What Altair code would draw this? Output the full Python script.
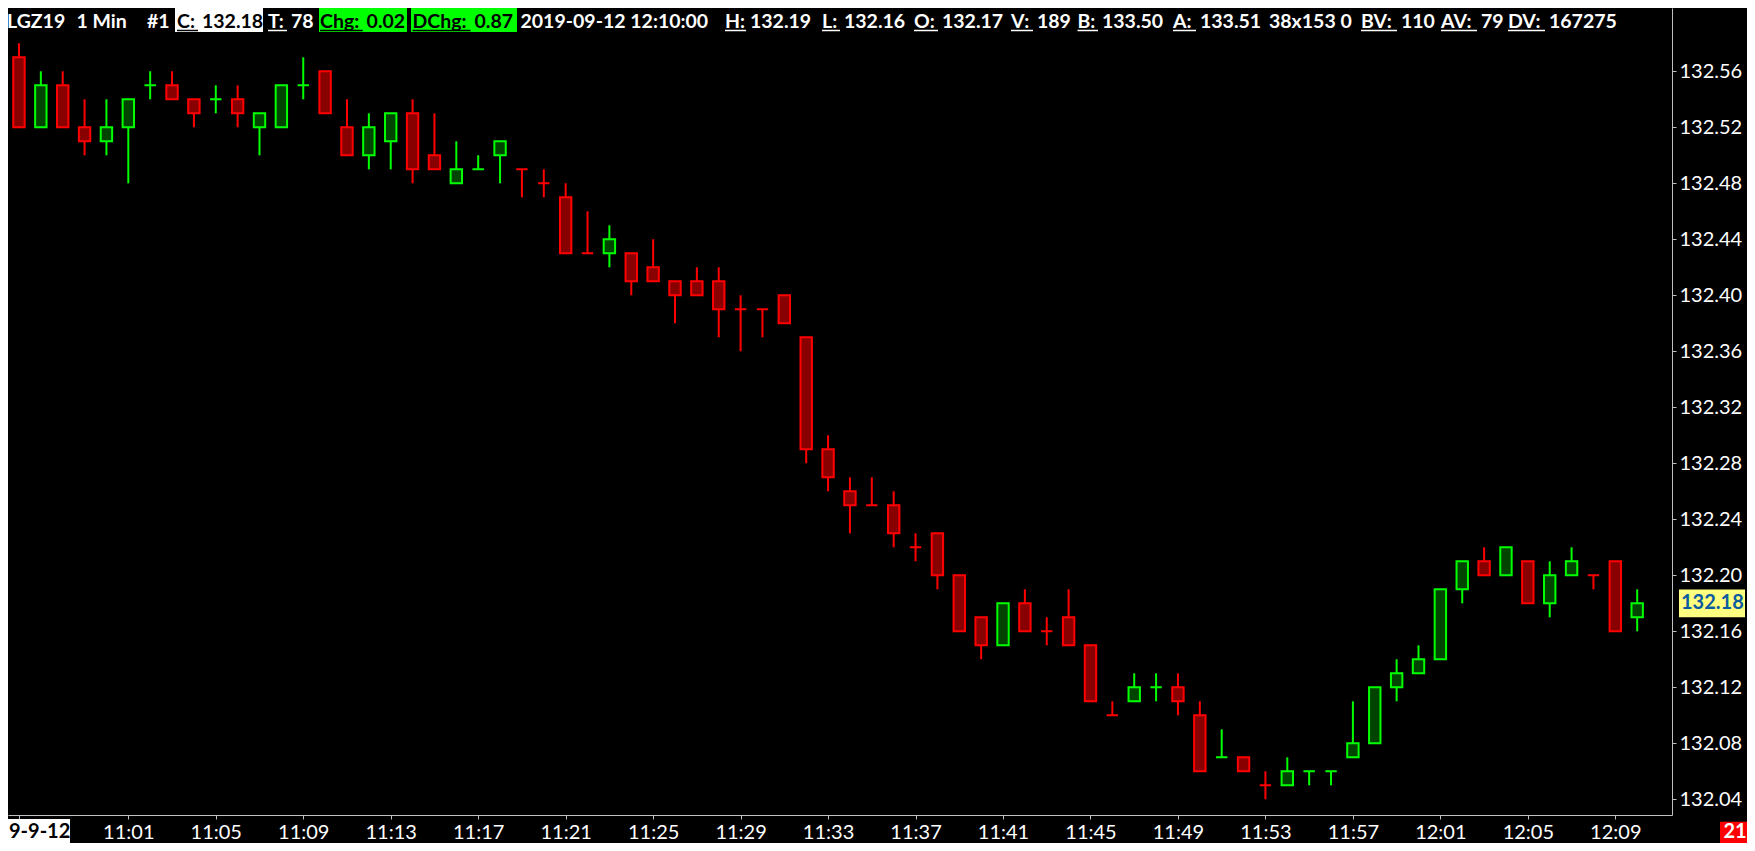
import altair as alt
import pandas as pd

# ---------------- data ----------------
START = "2019-09-12T10:56:00Z"   # first 1-minute bar

opens = [132.57, 132.52, 132.55, 132.52, 132.51, 132.52, 132.55, 132.55, 132.54, 132.54,
         132.54, 132.52, 132.52, 132.55, 132.56, 132.52, 132.50, 132.51, 132.53, 132.50,
         132.48, 132.49, 132.50, 132.49, 132.48, 132.47, 132.43, 132.43, 132.43, 132.42,
         132.41, 132.41, 132.41, 132.39, 132.39, 132.40, 132.37, 132.29, 132.26, 132.25,
         132.25, 132.22, 132.23, 132.20, 132.17, 132.15, 132.18, 132.16, 132.17, 132.15,
         132.10, 132.11, 132.12, 132.12, 132.10, 132.07, 132.07, 132.05, 132.05, 132.06,
         132.06, 132.07, 132.08, 132.12, 132.13, 132.14, 132.19, 132.21, 132.20, 132.21,
         132.18, 132.20, 132.20, 132.21, 132.17]
highs = [132.58, 132.56, 132.56, 132.54, 132.54, 132.54, 132.56, 132.56, 132.54, 132.55,
         132.55, 132.53, 132.55, 132.57, 132.56, 132.54, 132.53, 132.53, 132.54, 132.53,
         132.51, 132.50, 132.51, 132.49, 132.49, 132.48, 132.46, 132.45, 132.43, 132.44,
         132.41, 132.42, 132.42, 132.40, 132.39, 132.40, 132.37, 132.30, 132.27, 132.27,
         132.26, 132.23, 132.23, 132.20, 132.17, 132.18, 132.19, 132.17, 132.19, 132.15,
         132.11, 132.13, 132.13, 132.13, 132.11, 132.09, 132.07, 132.06, 132.07, 132.06,
         132.06, 132.11, 132.12, 132.14, 132.15, 132.19, 132.21, 132.22, 132.22, 132.21,
         132.21, 132.22, 132.20, 132.21, 132.19]
lows = [132.52, 132.52, 132.52, 132.50, 132.50, 132.48, 132.54, 132.54, 132.52, 132.53,
        132.52, 132.50, 132.52, 132.54, 132.53, 132.50, 132.49, 132.49, 132.48, 132.49,
        132.48, 132.49, 132.48, 132.47, 132.47, 132.43, 132.43, 132.42, 132.40, 132.41,
        132.38, 132.40, 132.37, 132.36, 132.37, 132.38, 132.28, 132.26, 132.23, 132.25,
        132.22, 132.21, 132.19, 132.16, 132.14, 132.15, 132.16, 132.15, 132.15, 132.11,
        132.10, 132.11, 132.11, 132.10, 132.06, 132.07, 132.06, 132.04, 132.05, 132.05,
        132.05, 132.07, 132.08, 132.11, 132.13, 132.14, 132.18, 132.20, 132.20, 132.18,
        132.17, 132.20, 132.19, 132.16, 132.16]
closes = [132.52, 132.55, 132.52, 132.51, 132.52, 132.54, 132.55, 132.54, 132.53, 132.54,
          132.53, 132.53, 132.55, 132.55, 132.53, 132.50, 132.52, 132.53, 132.49, 132.49,
          132.49, 132.49, 132.51, 132.49, 132.48, 132.43, 132.43, 132.44, 132.41, 132.41,
          132.40, 132.40, 132.39, 132.39, 132.39, 132.38, 132.29, 132.27, 132.25, 132.25,
          132.23, 132.22, 132.20, 132.16, 132.15, 132.18, 132.16, 132.16, 132.15, 132.11,
          132.10, 132.12, 132.12, 132.11, 132.06, 132.07, 132.06, 132.05, 132.06, 132.06,
          132.06, 132.08, 132.12, 132.13, 132.14, 132.19, 132.21, 132.20, 132.22, 132.18,
          132.20, 132.21, 132.20, 132.16, 132.18]

y_ticks = [132.04, 132.08, 132.12, 132.16, 132.20, 132.24, 132.28, 132.32,
           132.36, 132.40, 132.44, 132.48, 132.52, 132.56]

DATE_LABEL = "9-9-12"
BAR_COUNT_LABEL = "21"

HEADER_TEXT = ["LGZ19", "1 Min", "#1",
               "C:", f"{closes[-1]:.2f}", "T:", "78", "Chg:", "0.02", "DChg:", "0.87",
               "2019-09-12 12:10:00",
               "H:", f"{highs[-1]:.2f}", "L:", f"{lows[-1]:.2f}", "O:", f"{opens[-1]:.2f}",
               "V:", "189", "B:", "133.50", "A:", "133.51", "38x153 0",
               "BV:", "110", "AV:", "79", "DV:", "167275"]

# ---------------- layout (page pixels of the reference) ----------------
HEADER_PAGE_X = [7, 76.5, 147, 177, 202, 268, 291, 320, 366.6, 412.5, 474.5, 520.5,
                 725, 750, 822, 844, 914, 942, 1011, 1037, 1077.5, 1102, 1173, 1200, 1269,
                 1361, 1401, 1441, 1481, 1508, 1549]
HEADER_BOXES = [(175, 263, "#ffffff"), (319, 407, "#00ff00"), (411, 517, "#00ff00")]
M = 8                      # page margin
W, H = 1664, 807           # plot area
PX_PER_MIN = 22.0
FIRST_X = 6.0              # local x of first bar
PAD_R, PAD_B = 75, 28
FONT = "Lato"

UP_STROKE, DOWN_STROKE = "#00ff00", "#ff0000"
UP_FILL, DOWN_FILL = "#004400", "#880000"
AXIS_GRAY = "#c0c0c0"

# ---------------- tables ----------------
times = pd.date_range(START, periods=len(opens), freq="min")
dirs = []
prev = "down"
for i, (o, c) in enumerate(zip(opens, closes)):
    diff = round(c - o, 4)
    if diff > 0:
        d = "up"
    elif diff < 0:
        d = "down"
    else:
        pdiff = round(c - closes[i - 1], 4) if i else 0
        d = "up" if pdiff > 0 else ("down" if pdiff < 0 else prev)
    dirs.append(d)
    prev = d

df = pd.DataFrame({
    "t": times.strftime("%Y-%m-%dT%H:%M:%SZ"),
    "open": opens, "high": highs, "low": lows, "close": closes, "dir": dirs,
})

t0 = pd.Timestamp(START)
t0_ms = t0.value // 10**6
x_domain = [t0_ms - FIRST_X / PX_PER_MIN * 60000,
            t0_ms + (W - FIRST_X) / PX_PER_MIN * 60000]
tick_times = [times[0]] + list(times[5::4])
x_values = [alt.DateTime(year=t.year, month=t.month, date=t.day, hours=t.hour,
                         minutes=t.minute, utc=True) for t in tick_times]
first_lbl = times[0].strftime("%H:%M")

y_top = 132.56 + (71.3 - M) / 1400.0
y_bot = 132.04 - (H - (799.3 - M)) / 1400.0

xs = alt.X("t:T", scale=alt.Scale(type="utc", domain=x_domain, nice=False),
           axis=alt.Axis(values=x_values, title=None, grid=False, tickSize=4,
                         labelPadding=3, labelFont=FONT, labelFontSize=20,
                         labelColor="white", labelFlush=False, labelOverlap=False,
                         domainColor=AXIS_GRAY, tickColor=AXIS_GRAY,
                         labelExpr=f"utcFormat(datum.value, '%H:%M') == '{first_lbl}' ? '' : utcFormat(datum.value, '%H:%M')"))
ys = alt.Scale(domain=[y_bot, y_top], nice=False, zero=False)
yaxis = alt.Axis(values=y_ticks, format=".2f", orient="right", title=None, grid=False,
                 tickSize=4, labelPadding=3, labelFont=FONT, labelFontSize=20,
                 labelColor="white", labelFlush=False, labelOverlap=False,
                 domainColor=AXIS_GRAY, tickColor=AXIS_GRAY)

stroke_scale = alt.Scale(domain=["up", "down"], range=[UP_STROKE, DOWN_STROKE])
fill_scale = alt.Scale(domain=["up", "down"], range=[UP_FILL, DOWN_FILL])

base = alt.Chart(df)
wicks = base.mark_rule(strokeWidth=2).encode(
    x=xs,
    y=alt.Y("low:Q", scale=ys, axis=yaxis),
    y2="high:Q",
    color=alt.Color("dir:N", scale=stroke_scale, legend=None),
)
bodies = base.mark_bar(size=11.4, strokeWidth=2).encode(
    x=xs,
    y=alt.Y("open:Q", scale=ys),
    y2="close:Q",
    fill=alt.Fill("dir:N", scale=fill_scale, legend=None),
    stroke=alt.Stroke("dir:N", scale=stroke_scale, legend=None),
)

# current price label on the right axis
last = pd.DataFrame({"p": [closes[-1]], "hi": [closes[-1] + 0.0099],
                     "lo": [closes[-1] - 0.0099], "lbl": [f"{closes[-1]:.2f}"]})
price_box = alt.Chart(last).mark_rect(color="#ffff80").encode(
    x=alt.value(1671), x2=alt.value(1737),
    y=alt.Y("hi:Q", scale=ys), y2="lo:Q")
price_txt = alt.Chart(last).mark_text(align="left", baseline="middle", font=FONT,
                                      fontSize=20, fontWeight="bold",
                                      color="#0b5c9e").encode(
    x=alt.value(1673), y=alt.Y("p:Q", scale=ys), text="lbl:N")

# header
hx = [x - M for x in HEADER_PAGE_X]
hcol = []
for x in HEADER_PAGE_X:
    inside = any(a <= x <= b for a, b, _ in HEADER_BOXES)
    hcol.append("black" if inside else "white")
head_df = pd.DataFrame({"text": HEADER_TEXT, "x": hx, "col": hcol})
ul_rows = []
for i, txt in enumerate(HEADER_TEXT):
    if txt.endswith(":"):
        ul_rows.append({"x0": hx[i], "x1": hx[i + 1] - 4, "col": hcol[i]})
ul_df = pd.DataFrame(ul_rows)
box_df = pd.DataFrame({"x0": [a - M for a, b, c in HEADER_BOXES],
                       "x1": [b - M for a, b, c in HEADER_BOXES],
                       "col": [c for a, b, c in HEADER_BOXES]})

head_boxes = alt.Chart(box_df).mark_rect().encode(
    x=alt.X("x0:Q", scale=None), x2="x1:Q",
    y=alt.value(0), y2=alt.value(24),
    color=alt.Color("col:N", scale=None))
head_text = alt.Chart(head_df).mark_text(align="left", baseline="alphabetic",
                                          font=FONT, fontSize=19.5,
                                          fontWeight="bold").encode(
    x=alt.X("x:Q", scale=None), y=alt.value(20),
    text="text:N", color=alt.Color("col:N", scale=None))
head_ul = alt.Chart(ul_df).mark_rule(strokeWidth=1.5).encode(
    x=alt.X("x0:Q", scale=None), x2="x1:Q", y=alt.value(22.5),
    color=alt.Color("col:N", scale=None))

# date label box and bar-count box
one = pd.DataFrame({"d": [DATE_LABEL], "n": [BAR_COUNT_LABEL]})
date_box = alt.Chart(one).mark_rect(color="white").encode(
    x=alt.value(0), x2=alt.value(62), y=alt.value(H + 4), y2=alt.value(H + 28))
date_txt = alt.Chart(one).mark_text(align="left", baseline="alphabetic", font=FONT,
                                    fontSize=20, fontWeight="bold", color="black").encode(
    x=alt.value(1), y=alt.value(H + 23), text="d:N")
cnt_box = alt.Chart(one).mark_rect(color="#ff0000").encode(
    x=alt.value(1712), x2=alt.value(W + PAD_R), y=alt.value(H + 6.7), y2=alt.value(H + 28))
cnt_txt = alt.Chart(one).mark_text(align="center", baseline="alphabetic", font=FONT,
                                   fontSize=20, fontWeight="bold", color="white").encode(
    x=alt.value(1727), y=alt.value(H + 23), text="n:N")

chart = alt.layer(
    wicks, bodies, price_box, price_txt, head_boxes, head_ul, head_text,
    date_box, date_txt, cnt_box, cnt_txt,
).resolve_scale(color="independent").properties(
    width=W, height=H,
    autosize=alt.AutoSizeParams(type="none"),
    padding={"left": 0, "top": 0, "right": PAD_R, "bottom": PAD_B},
).configure(background="black").configure_view(stroke=None)

chart.save("out.html", embed_options={"renderer": "svg", "actions": False})
